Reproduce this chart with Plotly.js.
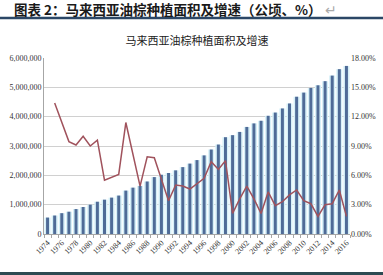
<!DOCTYPE html>
<html>
<head>
<meta charset="utf-8">
<script src="https://cdn.plot.ly/plotly-3.0.1.min.js"></script>
<style>
  html, body { margin: 0; padding: 0; background: #ffffff; }
  #chart { width: 383px; height: 275px; }
</style>
</head>
<body>
<div id="chart"></div>
<script>
// Years (categories)
const years = [1974,1975,1976,1977,1978,1979,1980,1981,1982,1983,1984,1985,1986,1987,1988,1989,1990,1991,1992,1993,1994,1995,1996,1997,1998,1999,2000,2001,2002,2003,2004,2005,2006,2007,2008,2009,2010,2011,2012,2013,2014,2015,2016];

// Planted area (hectares)
const area = [560000,630000,710000,760000,850000,920000,1000000,1100000,1170000,1240000,1310000,1480000,1580000,1640000,1790000,1940000,2020000,2080000,2170000,2280000,2400000,2520000,2680000,2880000,3050000,3300000,3370000,3480000,3650000,3770000,3860000,4030000,4140000,4280000,4450000,4680000,4820000,4980000,5070000,5210000,5400000,5620000,5730000];

// Growth rate (%), first available from 1975
const growthYears = [1975,1976,1977,1978,1979,1980,1981,1982,1983,1984,1985,1986,1987,1988,1989,1990,1991,1992,1993,1994,1995,1996,1997,1998,1999,2000,2001,2002,2003,2004,2005,2006,2007,2008,2009,2010,2011,2012,2013,2014,2015,2016];
const growth = [13.4,11.4,9.45,9.1,10.0,9.0,9.6,5.5,5.8,6.1,11.4,8.2,4.9,7.9,7.8,5.6,3.4,5.0,4.9,4.6,5.2,5.7,7.4,6.6,7.5,2.1,3.6,4.9,3.6,2.1,4.3,2.9,3.3,4.0,4.5,3.4,3.1,1.8,3.0,3.1,4.5,1.8];

const leftTicks = [0,1000000,2000000,3000000,4000000,5000000,6000000];
const rightTicks = [0,3,6,9,12,15,18];
const labelYears = years.filter(y => y % 2 === 0);

const traces = [
  { type: 'bar', x: years, y: area, width: 0.85, marker: { color: '#d6f0f8', line: { width: 0 } }, hoverinfo: 'skip', showlegend: false },
  { type: 'bar', x: years, y: area, width: 0.42, marker: { color: '#4f6b97', line: { width: 0 } }, showlegend: false },
  { type: 'scatter', mode: 'lines', x: growthYears, y: growth, yaxis: 'y2', line: { color: '#a0525c', width: 1.5 }, showlegend: false }
];

const L = 44, R = 350, T = 58, B = 234, W = 383, H = 275;
const pw = R - L, ph = B - T;
const px = v => (v - L) / pw;
const py = v => (B - v) / ph;

const layout = {
  width: W, height: H,
  margin: { l: L, r: W - R, t: T, b: H - B, pad: 0 },
  paper_bgcolor: '#ffffff',
  plot_bgcolor: '#ffffff',
  barmode: 'overlay',
  font: { family: 'Liberation Serif, serif', size: 8, color: '#333333' },
  title: {
    text: '马来西亚油棕种植面积及增速',
    font: { family: 'Noto Sans CJK SC', size: 11, color: '#222222' },
    x: 0.5, xanchor: 'center', xref: 'paper',
    y: 1 - 41 / H, yanchor: 'middle', yref: 'container'
  },
  xaxis: {
    range: [1973.5, 2016.5],
    tickvals: labelYears,
    ticktext: labelYears.map(String),
    tickangle: -45,
    ticks: '',
    showgrid: false,
    showline: true, linecolor: '#a6a6a6', linewidth: 1,
    tickfont: { family: 'Liberation Serif, serif', size: 8, color: '#333333' },
    minor: { tick0: 1973.5, dtick: 1, ticks: 'outside', ticklen: 3, tickcolor: '#a6a6a6', showgrid: false },
    zeroline: false
  },
  yaxis: {
    range: [0, 6000000],
    tickvals: leftTicks,
    ticktext: leftTicks.map(v => v.toLocaleString('en-US')),
    showgrid: true, gridcolor: '#d0d0d0', gridwidth: 1,
    showline: true, linecolor: '#a6a6a6', linewidth: 1,
    ticks: '',
    zeroline: false,
    tickfont: { family: 'Liberation Serif, serif', size: 8, color: '#333333' }
  },
  yaxis2: {
    range: [0, 18],
    overlaying: 'y', side: 'right',
    tickvals: rightTicks,
    ticktext: rightTicks.map(v => v.toFixed(2) + '%'),
    showgrid: false,
    showline: false,
    ticks: '',
    zeroline: false,
    tickfont: { family: 'Liberation Serif, serif', size: 8, color: '#333333' }
  },
  shapes: [
    { type: 'line', xref: 'paper', yref: 'paper', x0: px(0), x1: px(W), y0: py(18), y1: py(18), line: { color: '#2b4766', width: 2.5 } },
    { type: 'rect', xref: 'paper', yref: 'paper', x0: px(0), x1: px(W), y0: py(272), y1: py(H + 2), fillcolor: '#2d4a52', line: { width: 0 } }
  ],
  annotations: [
    {
      xref: 'paper', yref: 'paper', x: px(12), y: py(9), xanchor: 'left', yanchor: 'middle',
      text: '<b>图表 2：马来西亚油棕种植面积及增速（公顷、%）</b><span style="color:#aaaaaa"> ↵</span>',
      showarrow: false,
      font: { family: 'Noto Sans CJK SC', size: 13.5, color: '#1a1a1a' }
    }
  ]
};

Plotly.newPlot('chart', traces, layout, { displayModeBar: false, staticPlot: true });
</script>
</body>
</html>
